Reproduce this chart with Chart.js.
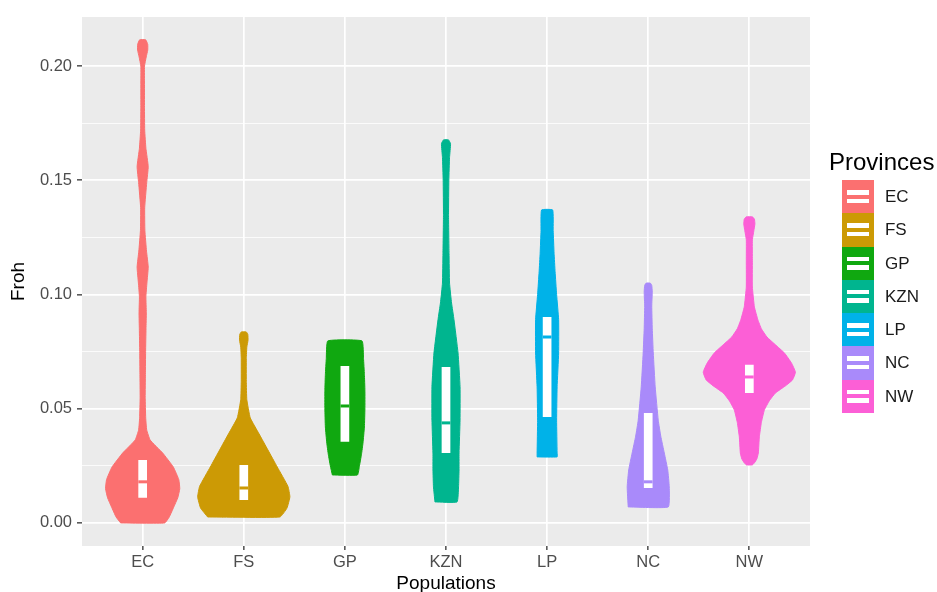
<!DOCTYPE html>
<html>
<head>
<meta charset="utf-8">
<script src="https://cdn.jsdelivr.net/npm/chart.js@4.4.1/dist/chart.umd.min.js"></script>
<style>
  html, body { margin: 0; padding: 0; background: #ffffff; }
  #wrap { position: relative; width: 937px; height: 592px; overflow: hidden; font-family: "Liberation Sans", Arial, sans-serif; }
  #chart { position: absolute; left: 0; top: 0; }
  #legend { position: absolute; left: 829px; top: 150px; }
  #legend .title { font-size: 24px; line-height: 24px; color: #000; white-space: nowrap; }
  #legend .rows { position: absolute; left: 12.7px; top: 30px; }
  #legend .row { position: relative; height: 33.3px; }
  #legend .key { position: absolute; left: 0; top: 0; width: 32px; height: 33.3px; }
  #legend .box { position: absolute; left: 5px; top: 10px; width: 22.6px; height: 13px; background: #fff; }
  #legend .med { position: absolute; left: 0; top: 4.5px; width: 22.6px; height: 4px; }
  #legend .lab { position: absolute; left: 43.3px; top: 0; line-height: 33.3px; font-size: 17px; color: #1a1a1a; }
</style>
</head>
<body>
<div id="wrap">
  <canvas id="chart" width="937" height="592"></canvas>
  <div id="legend"><div class="title">Provinces</div><div class="rows" id="legendRows"></div></div>
</div>
<script>
const provinces = ["EC", "FS", "GP", "KZN", "LP", "NC", "NW"];
const fillColors = ["#FB7070", "#CC9A05", "#10A810", "#00B58F", "#00B2E8", "#A98AFA", "#FC5FD6"];

const yMajorTicks = [0, 0.05, 0.10, 0.15, 0.20];
const yMinorTicks = [0.025, 0.075, 0.125, 0.175];

// violin outlines: Froh levels and half widths (in category units)
const ecLevels = [0.000, 0.0026, 0.007, 0.011, 0.015, 0.019, 0.0245, 0.0306, 0.0363, 0.0407, 0.046, 0.055, 0.065, 0.075, 0.085, 0.092, 0.099, 0.105, 0.112, 0.119, 0.128, 0.138, 0.149, 0.156, 0.164, 0.172, 0.182, 0.192, 0.200, 0.204, 0.207, 0.2095, 0.2115];
const ecWidths = [0.218, 0.263, 0.308, 0.347, 0.367, 0.357, 0.303, 0.198, 0.074, 0.040, 0.030, 0.025, 0.027, 0.029, 0.033, 0.036, 0.032, 0.042, 0.055, 0.038, 0.022, 0.020, 0.040, 0.055, 0.032, 0.020, 0.018, 0.018, 0.018, 0.035, 0.050, 0.050, 0.030];

const fsLevels = [0.0026, 0.0065, 0.0114, 0.016, 0.0245, 0.032, 0.039, 0.046, 0.054, 0.062, 0.072, 0.077, 0.080, 0.0825, 0.0836];
const fsWidths = [0.357, 0.427, 0.456, 0.437, 0.331, 0.238, 0.151, 0.064, 0.030, 0.025, 0.025, 0.030, 0.042, 0.040, 0.025];

const gpLevels = [0.021, 0.025, 0.030, 0.035, 0.042, 0.050, 0.058, 0.065, 0.072, 0.0797];
const gpWidths = [0.124, 0.144, 0.164, 0.179, 0.193, 0.198, 0.198, 0.193, 0.184, 0.169];

const kznLevels = [0.0092, 0.0158, 0.0232, 0.0306, 0.045, 0.0596, 0.0744, 0.089, 0.0963, 0.105, 0.118, 0.135, 0.150, 0.160, 0.166, 0.1677];
const kznWidths = [0.109, 0.124, 0.129, 0.129, 0.139, 0.139, 0.119, 0.079, 0.055, 0.035, 0.030, 0.025, 0.028, 0.035, 0.045, 0.025];

const lpLevels = [0.0289, 0.0306, 0.045, 0.0596, 0.0744, 0.089, 0.100, 0.110, 0.118, 0.128, 0.137];
const lpWidths = [0.099, 0.099, 0.094, 0.099, 0.114, 0.114, 0.094, 0.079, 0.069, 0.060, 0.055];

const ncLevels = [0.007, 0.0158, 0.0232, 0.0306, 0.038, 0.045, 0.0596, 0.0744, 0.085, 0.095, 0.101, 0.104, 0.105];
const ncWidths = [0.198, 0.208, 0.193, 0.159, 0.124, 0.099, 0.069, 0.050, 0.040, 0.035, 0.040, 0.035, 0.020];

const nwLevels = [0.0254, 0.0263, 0.028, 0.0306, 0.0377, 0.044, 0.0495, 0.0535, 0.0569, 0.060, 0.0626, 0.066, 0.070, 0.0744, 0.078, 0.0814, 0.085, 0.089, 0.0946, 0.1033, 0.115, 0.124, 0.128, 0.131, 0.133, 0.134];
const nwWidths = [0.030, 0.050, 0.074, 0.089, 0.099, 0.119, 0.149, 0.198, 0.258, 0.357, 0.427, 0.456, 0.417, 0.347, 0.258, 0.174, 0.119, 0.084, 0.050, 0.030, 0.030, 0.030, 0.045, 0.055, 0.050, 0.030];

// inner boxplots
const boxLower = [0.011, 0.010, 0.0355, 0.0306, 0.0464, 0.0153, 0.0569];
const boxMedian = [0.018, 0.0153, 0.0512, 0.0438, 0.0814, 0.0180, 0.0639];
const boxUpper = [0.0276, 0.0254, 0.0687, 0.0683, 0.0902, 0.0481, 0.0692];

const violinLevels = [ecLevels, fsLevels, gpLevels, kznLevels, lpLevels, ncLevels, nwLevels];
const violinWidths = [ecWidths, fsWidths, gpWidths, kznWidths, lpWidths, ncWidths, nwWidths];

const boxHalf = 0.043;
const FONT = "'Liberation Sans', Arial, sans-serif";

function violinPoints(center, levels, widths) {
  const left = levels.map((y, k) => ({ x: center - widths[k], y }));
  const right = levels.map((y, k) => ({ x: center + widths[k], y })).reverse();
  return [...left, ...right, left[0]];
}

function isMajor(v) {
  return yMajorTicks.some((t) => Math.abs(t - v) < 1e-9);
}

const datasets = [];
provinces.forEach((name, i) => {
  datasets.push({
    label: name,
    data: violinPoints(i, violinLevels[i], violinWidths[i]),
    borderColor: fillColors[i],
    backgroundColor: fillColors[i],
    borderWidth: 1,
    fill: "shape",
    tension: 0.12,
    pointRadius: 0,
    order: 3
  });
  datasets.push({
    label: name + " box",
    data: [
      { x: i - boxHalf, y: boxLower[i] },
      { x: i - boxHalf, y: boxUpper[i] },
      { x: i + boxHalf, y: boxUpper[i] },
      { x: i + boxHalf, y: boxLower[i] },
      { x: i - boxHalf, y: boxLower[i] }
    ],
    borderColor: "#ffffff",
    backgroundColor: "#ffffff",
    borderWidth: 0,
    fill: "shape",
    tension: 0,
    pointRadius: 0,
    order: 2
  });
  datasets.push({
    label: name + " median",
    data: [
      { x: i - boxHalf, y: boxMedian[i] },
      { x: i + boxHalf, y: boxMedian[i] }
    ],
    borderColor: fillColors[i],
    borderWidth: 3,
    fill: false,
    tension: 0,
    pointRadius: 0,
    order: 1
  });
});

const panelBackground = {
  id: "panelBackground",
  beforeDraw(chart) {
    const { ctx, chartArea } = chart;
    ctx.save();
    ctx.fillStyle = "#EBEBEB";
    ctx.fillRect(chartArea.left, chartArea.top, chartArea.right - chartArea.left, chartArea.bottom - chartArea.top);
    ctx.restore();
  }
};

new Chart(document.getElementById("chart"), {
  type: "line",
  data: { datasets },
  options: {
    responsive: false,
    animation: false,
    devicePixelRatio: 1,
    layout: { padding: { top: 17, right: 127, left: 0, bottom: 0 } },
    plugins: {
      legend: { display: false },
      tooltip: { enabled: false }
    },
    scales: {
      x: {
        type: "linear",
        min: -0.6,
        max: 6.6,
        afterBuildTicks(scale) {
          scale.ticks = provinces.map((p, i) => ({ value: i }));
        },
        afterFit(scale) {
          scale.height = 46;
        },
        ticks: {
          autoSkip: false,
          maxRotation: 0,
          padding: 3,
          color: "#4D4D4D",
          font: { family: FONT, size: 16.5 },
          callback: (value) => provinces[value] ?? ""
        },
        grid: {
          color: "#ffffff",
          lineWidth: 1.7,
          tickColor: "#333333",
          tickLength: 4,
          tickWidth: 1.3
        },
        border: { display: false },
        title: {
          display: true,
          text: "Populations",
          color: "#000000",
          font: { family: FONT, size: 19, lineHeight: 0.9 },
          padding: { top: 0, bottom: 0 }
        }
      },
      y: {
        type: "linear",
        min: -0.0101,
        max: 0.2215,
        afterBuildTicks(scale) {
          scale.ticks = [...yMajorTicks, ...yMinorTicks].sort((a, b) => a - b).map((v) => ({ value: v }));
        },
        afterFit(scale) {
          scale.width = 82;
        },
        ticks: {
          autoSkip: false,
          padding: 5,
          color: "#4D4D4D",
          font: { family: FONT, size: 16.5 },
          callback: (value) => (isMajor(value) ? value.toFixed(2) : "")
        },
        grid: {
          color: "#ffffff",
          lineWidth: (ctx) => (ctx.tick && isMajor(ctx.tick.value) ? 1.7 : 0.8),
          tickColor: (ctx) => (ctx.tick && isMajor(ctx.tick.value) ? "#333333" : "rgba(0,0,0,0)"),
          tickLength: 5,
          tickWidth: 1.3
        },
        border: { display: false },
        title: {
          display: true,
          text: "Froh",
          color: "#000000",
          font: { family: FONT, size: 19 },
          padding: { top: 7.6, bottom: 0 }
        }
      }
    }
  },
  plugins: [panelBackground]
});

const legendRows = document.getElementById("legendRows");
provinces.forEach((name, i) => {
  const row = document.createElement("div");
  row.className = "row";
  row.innerHTML =
    '<div class="key" style="background:' + fillColors[i] + '">' +
    '<div class="box"><div class="med" style="background:' + fillColors[i] + '"></div></div></div>' +
    '<div class="lab">' + name + "</div>";
  legendRows.appendChild(row);
});
</script>
</body>
</html>
